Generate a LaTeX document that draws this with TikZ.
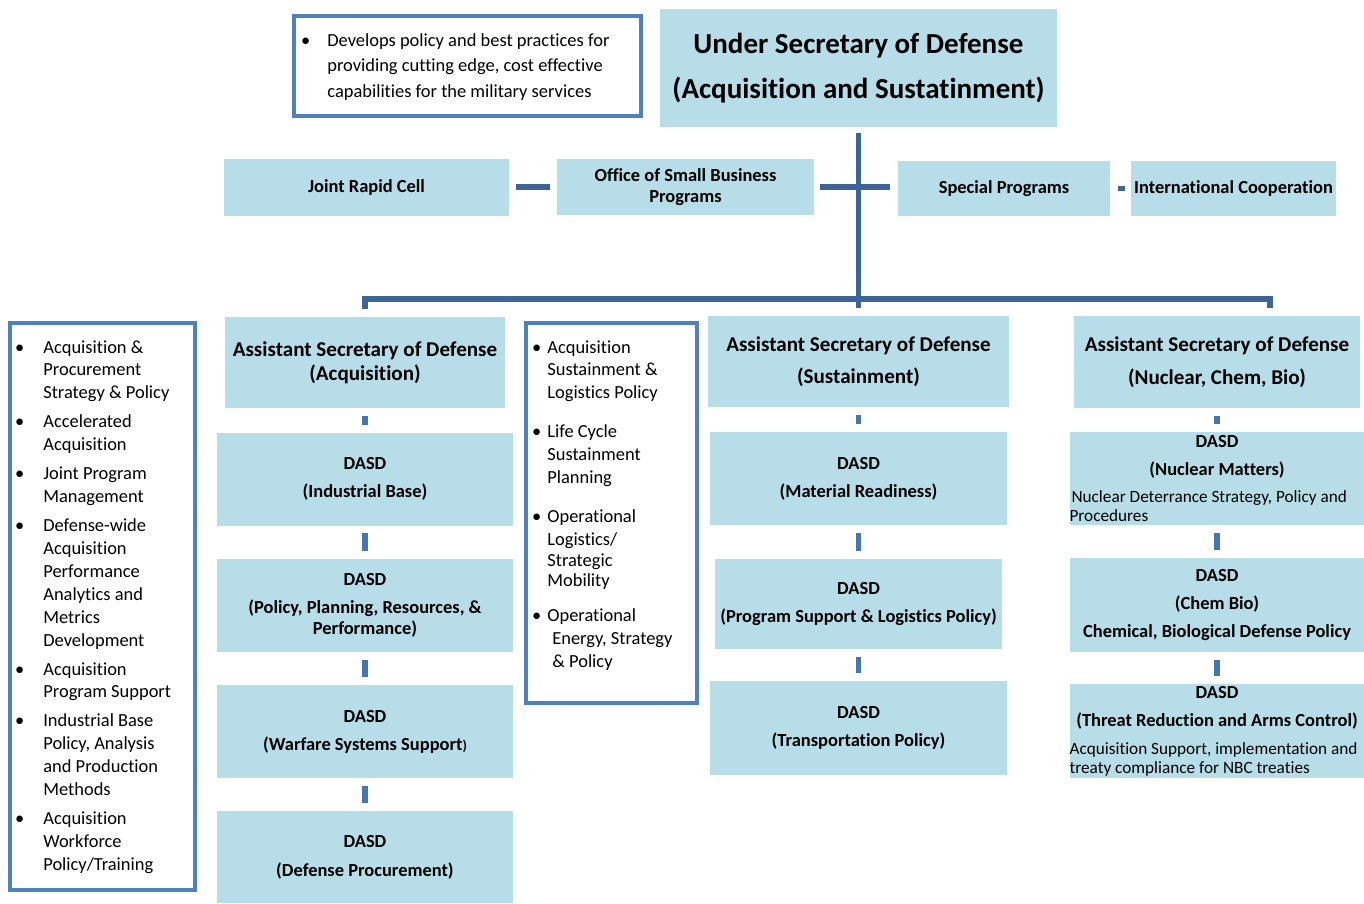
\documentclass[tikz,border=0pt]{standalone}
\usepackage{fontspec}
\setmainfont{Carlito}[Ligatures=NoCommon]
\usepackage{tikz}
\usetikzlibrary{calc}

\newcommand{\itembul}[1][0.38cm]{\llap{\textbullet\hspace{#1}}}

\begin{document}
\begin{tikzpicture}[x=0.02cm, y=-0.02cm,
				block/.style={rectangle, fill=boxfill, inner sep=0pt, align=center, font=\fontsize{10.5}{15.9}\selectfont\bfseries},
				asd/.style={block, minimum height=1.82cm, font=\fontsize{12}{13.6}\selectfont\bfseries},
				dasd/.style={block, minimum width=5.92cm, minimum height=1.86cm},
				listbox/.style={rectangle, draw=listframe, line width=2.3pt, inner sep=0pt},
				listtext/.style={inner sep=0pt, anchor=north west, align=left, font=\fontsize{10.5}{13.05}\selectfont},
				link/.style={line width=3pt, draw=linkblue},
				tick/.style={line width=3pt, draw=tickblue, shorten <=0.15cm, shorten >=0.15cm}]

					\definecolor{boxfill}{RGB}{183,222,232}
					\definecolor{listframe}{RGB}{79,129,189}
					\definecolor{linkblue}{RGB}{60,100,150}
					\definecolor{tickblue}{RGB}{70,118,175}

					\useasboundingbox (0,0) rectangle (1364,903);

					% top level
					\node[block, minimum width=7.94cm, minimum height=2.36cm, font=\fontsize{16.5}{25.5}\selectfont\bfseries] (usd) at (858.5,68) {Under Secretary of Defense\\(Acquisition and Sustatinment)};
					\node[listbox, minimum width=6.94cm, minimum height=2.0cm] (usdnote) at (467.5,66) {};
					\node[listtext, font=\fontsize{10.5}{14.7}\selectfont] (usdtext) at (327,33) {\itembul[0.34cm]Develops policy and best practices for\\providing cutting edge, cost effective\\capabilities for the military services};

					% staff offices
					\node[block, minimum width=5.70cm, minimum height=1.14cm] (jrc) at (366.5,187) {Joint Rapid Cell};
					\node[block, minimum width=5.14cm, minimum height=1.12cm, font=\fontsize{10.5}{11.9}\selectfont\bfseries] (osbp) at (685.5,187) {Office of Small Business\\Programs};
					\node[block, minimum width=4.24cm, minimum height=1.10cm] (sp) at (1004,188.5) {Special Programs};
					\node[block, minimum width=4.10cm, minimum height=1.10cm] (ic) at (1233.5,188.5) {International Cooperation};

					% assistant secretaries
					\node[asd, minimum width=5.62cm] (asda) at (365,362.5) {Assistant Secretary of Defense\\(Acquisition)};
					\node[asd, minimum width=6.02cm, font=\fontsize{12}{18.1}\selectfont\bfseries] (asds) at (858.5,361.5) {Assistant Secretary of Defense\\(Sustainment)};
					\node[asd, minimum width=5.74cm, minimum height=1.84cm, font=\fontsize{12}{18.7}\selectfont\bfseries] (asdn) at (1217,362) {Assistant Secretary of Defense\\(Nuclear, Chem, Bio)};

					% acquisition column
					\node[dasd] (dasdib) at (365,479) {DASD\\(Industrial Base)};
					\node[dasd] (dasdpp) at (365,605.5) {DASD\\(Policy, Planning, Resources, \&\\[-4pt]Performance)};
					\node[dasd] (dasdws) at (365,731.5) {DASD\\(Warfare Systems Support{\fontsize{8}{10}\selectfont)}};
					\node[dasd, minimum height=1.84cm] (dasddp) at (365,857) {DASD\\[0.5pt](Defense Procurement)};

					% sustainment column
					\node[dasd, minimum width=5.94cm] (dasdmr) at (858.5,478.5) {DASD\\(Material Readiness)};
					\node[dasd, minimum width=5.76cm, minimum height=1.80cm] (dasdps) at (858.5,604) {DASD\\[0.5pt](Program Support \& Logistics Policy)};
					\node[dasd, minimum width=5.94cm, minimum height=1.88cm] (dasdtp) at (858.5,728) {DASD\\(Transportation Policy)};

					% nuclear, chem, bio column
					\node[dasd, minimum width=5.90cm] (dasdnm) at (1217,478.5) {DASD\\(Nuclear Matters)\\\parbox[t]{5.9cm}{\raggedright\fontsize{9.8}{10.8}\selectfont\mdseries\hspace*{0.04cm}Nuclear Deterrance Strategy, Policy and\\Procedures}};
					\node[dasd, minimum width=5.90cm, minimum height=1.88cm] (dasdcb) at (1217,605) {DASD\\(Chem Bio)\\[0.5pt]Chemical, Biological Defense Policy};
					\node[dasd, minimum width=5.90cm, minimum height=1.88cm] (dasdtr) at (1217,731) {DASD\\(Threat Reduction and Arms Control)\\\parbox[t]{5.9cm}{\raggedright\fontsize{9.8}{10.8}\selectfont\mdseries Acquisition Support, implementation and\\treaty compliance for NBC treaties}};

					% function lists
					\node[listbox, minimum width=3.70cm, minimum height=11.34cm] (acqbox) at (102.5,606.5) {};
					\node[listtext] (acqlist) at (43,340) {\itembul Acquisition \&\\Procurement\\Strategy \& Policy\\[3.4pt]
						\itembul Accelerated\\Acquisition\\[3.4pt]
						\itembul Joint Program\\Management\\[3.4pt]
						\itembul Defense-wide\\Acquisition\\Performance\\Analytics and\\Metrics\\Development\\[3.4pt]
						\itembul Acquisition\\Program Support\\[3.4pt]
						\itembul Industrial Base\\Policy, Analysis\\and Production\\Methods\\[3.4pt]
						\itembul Acquisition\\Workforce\\Policy/Training};
					\node[listbox, minimum width=3.42cm, minimum height=7.6cm] (susbox) at (611.5,513) {};
					\node[listtext] (suslist) at (547,340) {\itembul[0.12cm]Acquisition\\Sustainment \&\\Logistics Policy\\[9pt]
						\itembul[0.12cm]Life Cycle\\Sustainment\\Planning\\[9pt]
						\itembul[0.12cm]Operational\\Logistics/\\[-1pt]Strategic\\[-1.5pt]Mobility\\[7pt]
						\itembul[0.12cm]Operational\\\hspace*{0.1cm}Energy, Strategy\\\hspace*{0.1cm}\& Policy};

					% connectors
					\coordinate (bus) at (858.5,299);
					\draw[link, shorten <=0.12cm, shorten >=0.16cm] (usd) -- (asds);
					\draw[link, shorten <=0.16cm, shorten >=0.16cm] (asda.north) |- (bus) -| ([xshift=1.06cm]asdn.north);
					\draw[link, shorten <=0.14cm, shorten >=0.14cm] (jrc) -- (osbp);
					\draw[link, shorten <=0.12cm, shorten >=0.16cm] (osbp.east) -- (osbp.east -| sp.west);
					\draw[link, shorten <=0.16cm, shorten >=0.12cm] (sp) -- (ic);

					\draw[tick] (asda) -- (dasdib);
					\draw[tick] (dasdib) -- (dasdpp);
					\draw[tick] (dasdpp) -- (dasdws);
					\draw[tick] (dasdws) -- (dasddp);
					\draw[tick] (asds) -- (dasdmr);
					\draw[tick] (dasdmr) -- (dasdps);
					\draw[tick] (dasdps) -- (dasdtp);
					\draw[tick] (asdn) -- (dasdnm);
					\draw[tick] (dasdnm) -- (dasdcb);
					\draw[tick] (dasdcb) -- (dasdtr);
				\end{tikzpicture}
\end{document}
